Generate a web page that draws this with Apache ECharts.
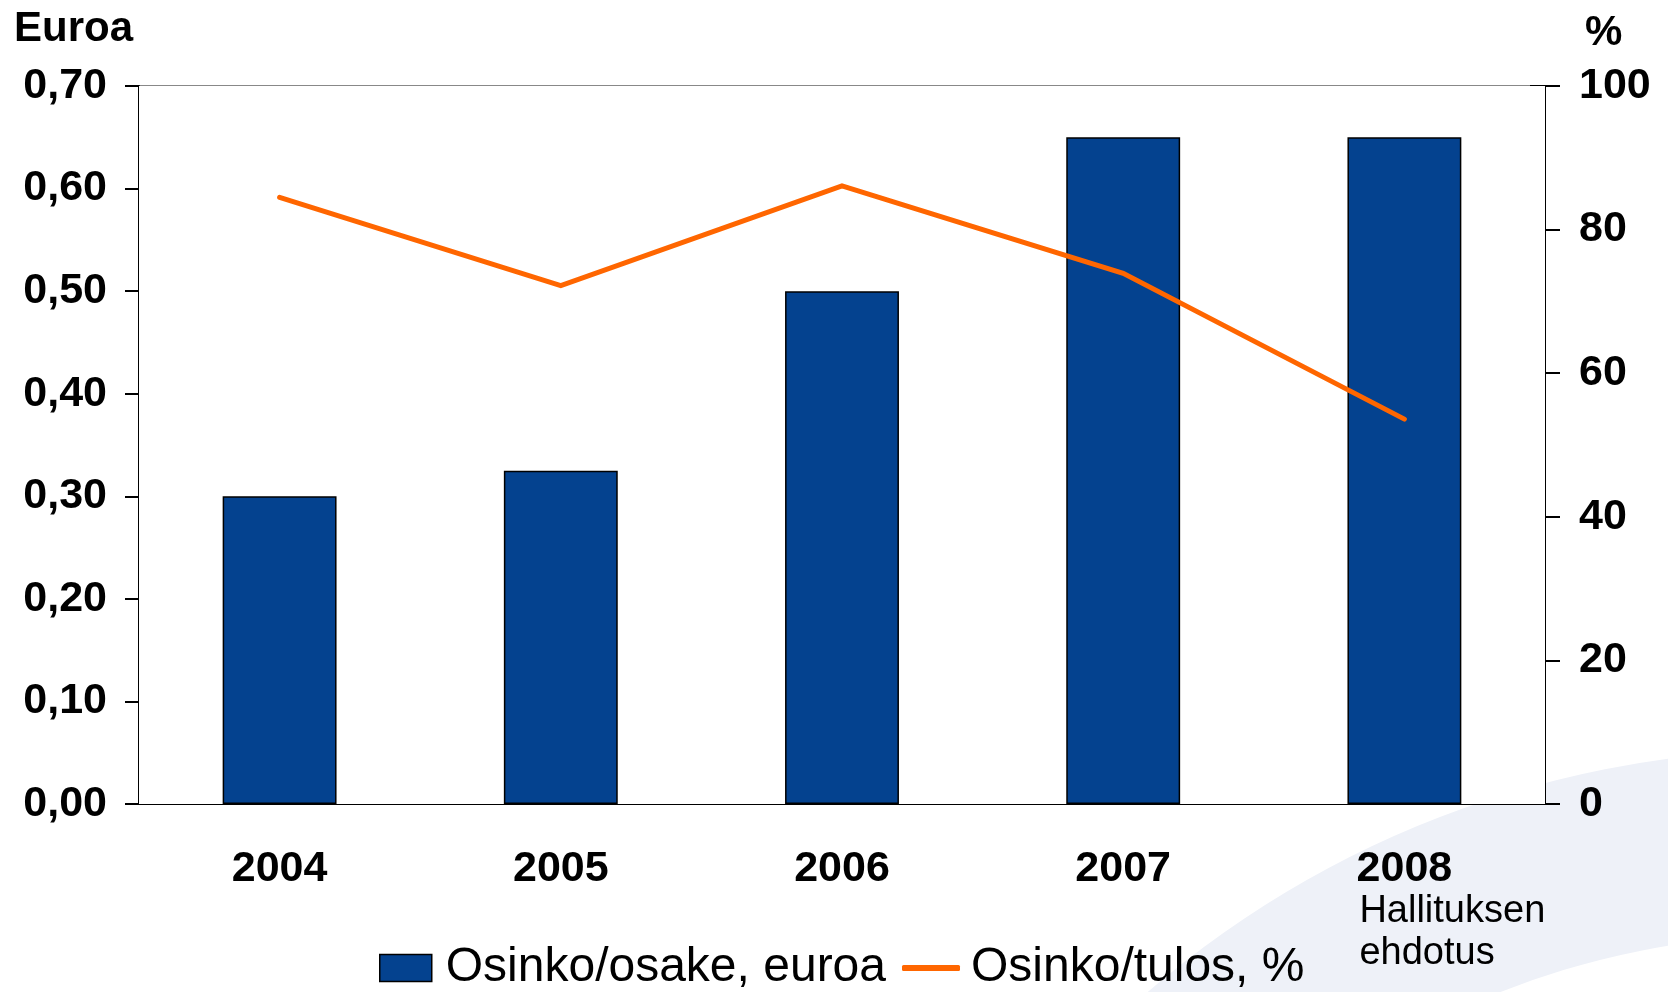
<!DOCTYPE html>
<html>
<head>
<meta charset="utf-8">
<script src="https://cdn.jsdelivr.net/npm/echarts@6/dist/echarts.min.js"></script>
<style>
html,body{margin:0;padding:0;background:#fff;}
#chart{width:1668px;height:992px;}
</style>
</head>
<body>
<div id="chart"></div>
<script>
const categories = ['2004', '2005', '2006', '2007', '2008'];
const dividendPerShare = [0.30, 0.325, 0.50, 0.65, 0.65];
const payoutRatio = [84.5, 72.2, 86.1, 73.9, 53.6];
const leftTicks = ['0,00','0,10','0,20','0,30','0,40','0,50','0,60','0,70'];
const seriesNames = ['Osinko/osake, euroa', 'Osinko/tulos, %'];
const leftTitle = 'Euroa';
const rightTitle = '%';
const note2008 = ['Hallituksen', 'ehdotus'];

const FONT = "'Liberation Sans', Arial, Helvetica, sans-serif";
const chart = echarts.init(document.getElementById('chart'), null, {renderer: 'canvas'});

function baseGraphics() {
  return [
    {
      type: 'ring', z: 0, silent: true,
      shape: {cx: 1800, cy: 1750, r: 1000, r0: 815},
      style: {fill: '#eef1f8'}
    },
    {type: 'text', left: 14, top: 8, style: {text: leftTitle, font: 'bold 42px ' + FONT, fill: '#000'}},
    {type: 'text', left: 1585, top: 12, style: {text: rightTitle, font: 'bold 42px ' + FONT, fill: '#000'}}
  ];
}

const option = {
  backgroundColor: '#fff',
  animation: false,
  textStyle: {fontFamily: FONT, color: '#000'},
  grid: {left: 139, right: 123, top: 86, bottom: 188, show: true, backgroundColor: '#fff', borderWidth: 0, z: 1},
  graphic: baseGraphics(),
  legend: [
    {
      data: [{name: seriesNames[0], icon: 'rect'}],
      left: 374, top: 939,
      itemWidth: 52, itemHeight: 27,
      itemStyle: {borderColor: '#000', borderWidth: 1.5},
      textStyle: {fontSize: 48, fontFamily: FONT, color: '#000', padding: [0, 0, 0, 9]}
    },
    {
      data: [{name: seriesNames[1], icon: 'roundRect'}],
      left: 897, top: 939,
      itemWidth: 58, itemHeight: 6,
      textStyle: {fontSize: 48, fontFamily: FONT, color: '#000', padding: [0, 0, 0, 6]}
    }
  ],
  xAxis: {
    type: 'category',
    data: categories,
    axisLine: {show: true, lineStyle: {color: '#000', width: 2}},
    axisTick: {show: false},
    axisLabel: {fontSize: 43, fontWeight: 'bold', color: '#000', margin: 44, fontFamily: FONT}
  },
  yAxis: [
    {
      type: 'value', min: 0, max: 0.7, interval: 0.1, position: 'left',
      axisLine: {show: true, lineStyle: {color: '#000', width: 2}},
      axisTick: {show: true, length: 14, lineStyle: {color: '#000', width: 2}},
      axisLabel: {
        fontSize: 43, fontWeight: 'bold', color: '#000', margin: 32, fontFamily: FONT,
        formatter: function (v) { return leftTicks[Math.round(v * 10)]; }
      },
      splitLine: {show: true, lineStyle: {color: ['#000','#000','#000','#000','#000','#000','#000','#888'], width: 2}}
    },
    {
      type: 'value', min: 0, max: 100, interval: 20, position: 'right',
      axisLine: {show: true, lineStyle: {color: '#000', width: 2}},
      axisTick: {show: true, length: 15, lineStyle: {color: '#000', width: 2}},
      axisLabel: {fontSize: 43, fontWeight: 'bold', color: '#000', margin: 34, fontFamily: FONT},
      splitLine: {show: false}
    },
    {
      type: 'value', min: 0, max: 100, interval: 20, position: 'right',
      axisLine: {show: false},
      axisTick: {show: true, inside: true, length: 15, lineStyle: {color: '#000', width: 2}},
      axisLabel: {show: false},
      splitLine: {show: false}
    }
  ],
  series: [
    {
      name: seriesNames[0], type: 'bar', data: dividendPerShare, yAxisIndex: 0,
      barWidth: '40.5%', z: 2,
      itemStyle: {color: '#04428f', borderColor: '#000', borderWidth: 1.5}
    },
    {
      name: seriesNames[1], type: 'line', data: payoutRatio, yAxisIndex: 1,
      symbol: 'none', z: 5,
      itemStyle: {color: '#ff6600'},
      lineStyle: {color: '#ff6600', width: 5, cap: 'round', join: 'miter'}
    }
  ]
};
chart.setOption(option);

// annotation under the 2008 label, aligned to the label's left edge
const p = chart.convertToPixel({xAxisIndex: 0}, categories[4]);
const yBase = chart.convertToPixel({yAxisIndex: 0}, 0);
const g = baseGraphics();
g.push({
  type: 'text', left: p - 45, top: yBase + 87,
  style: {text: note2008.join('\n'), font: '38px ' + FONT, fill: '#000', lineHeight: 42}
});
chart.setOption({graphic: g});
</script>
</body>
</html>
